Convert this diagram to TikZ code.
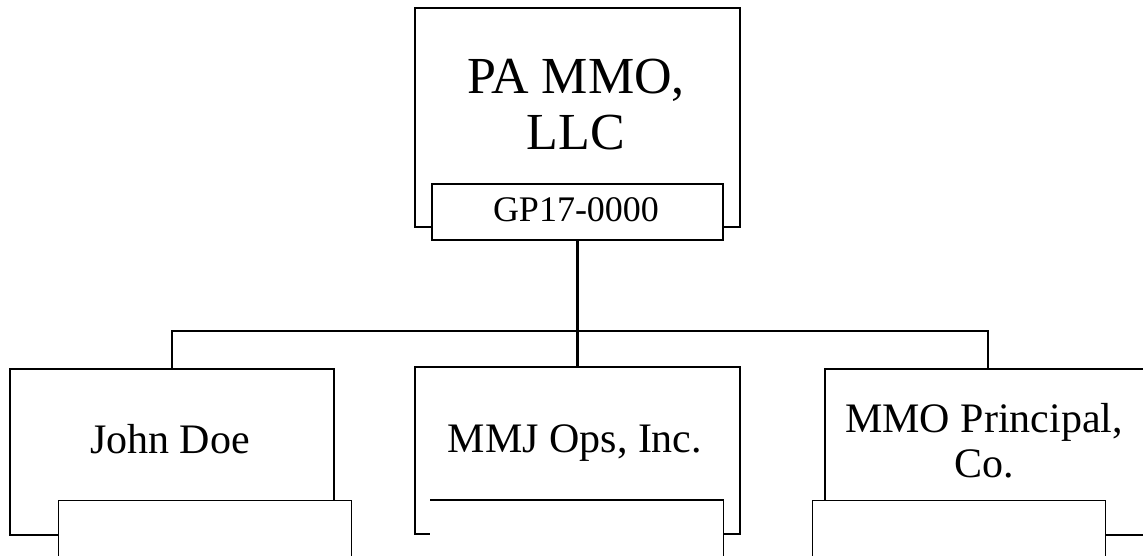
\documentclass[tikz,border=0pt]{standalone}
\usepackage{fontspec}
\setmainfont{Liberation Serif}
\begin{document}
\begin{tikzpicture}[x=1pt,y=-1pt,
  outerbox/.style={draw, line width=2.4pt, fill=white, minimum width=#1, minimum height=0pt, inner sep=0pt, anchor=north west},
  subbox/.style={fill=white, inner sep=0pt, anchor=north west},
  conn/.style={line width=2.4pt},
  bigtxt/.style={font=\fontsize{52}{56}\selectfont, align=center, inner sep=0pt, anchor=base},
  midtxt/.style={font=\fontsize{42}{45}\selectfont, align=center, inner sep=0pt, anchor=base},
  codetxt/.style={font=\fontsize{36}{40}\selectfont, inner sep=0pt, anchor=base}]
\useasboundingbox (0,0) rectangle (1143,556);
\clip (0,0) rectangle (1143,556);
% top entity
\node[outerbox=325pt, minimum height=219pt] (top) at (414,7) {};
\node[subbox, draw, line width=2.2pt, minimum width=291pt, minimum height=56pt] (topsub) at (431,183) {};
\node[bigtxt] (toptxt) at (576,150) {PA MMO,\\LLC};
\node[codetxt] (topcode) at (576,222) {GP17-0000};
% children outer boxes
\node[outerbox=324pt, minimum height=166pt] (jd) at (9,368) {};
\node[outerbox=325pt, minimum height=167pt] (mmj) at (414,366) {};
\node[outerbox=325pt, minimum height=166pt] (mmo) at (824,368) {};
% children sub boxes
\node[subbox, draw, line width=1.3pt, minimum width=293pt, minimum height=80pt] (jdsub) at (58,500) {};
\node[subbox, minimum width=293pt, minimum height=80pt] (mmjsub) at (430,500) {};
\draw[line width=1.3pt] (mmjsub.north west) -- (mmjsub.north east) -- (mmjsub.south east);
\node[subbox, draw, line width=1.3pt, minimum width=293pt, minimum height=80pt] (mmosub) at (812,500) {};
% texts
\node[midtxt] (jdtxt) at (170,453) {John Doe};
\node[midtxt] (mmjtxt) at (575,452) {MMJ Ops, Inc.};
\node[midtxt] (mmotxt) at (984,477) {MMO Principal,\\Co.};
% connectors
\path (topsub.south) ++(0,90) coordinate (bar);
\draw[conn] (topsub.south) -- (bar);
\draw[conn] (bar) -| (jd.north);
\draw[conn] (bar) -| (mmo.north);
\draw[conn] (bar) -- (bar |- mmj.north);
\end{tikzpicture}
\end{document}
